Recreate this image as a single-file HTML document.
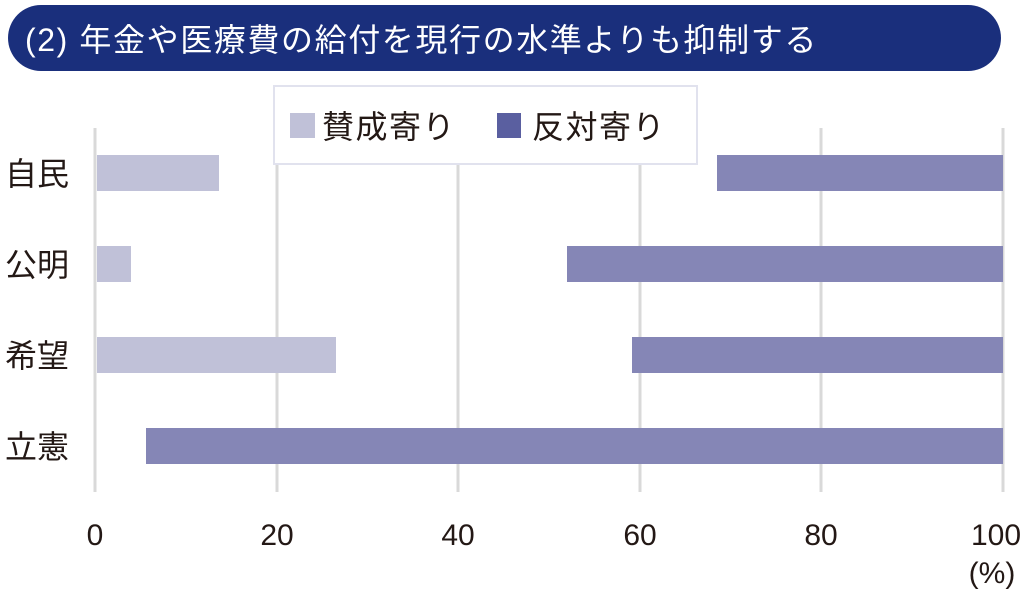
<!DOCTYPE html>
<html><head><meta charset="utf-8"><style>
body{margin:0;background:#fff;}
svg text{font-family:"Liberation Sans","Noto Sans CJK JP",sans-serif;}
</style></head><body>
<svg width="1030" height="592" viewBox="0 0 1030 592" xmlns="http://www.w3.org/2000/svg">
<rect x="0" y="0" width="1030" height="592" fill="#fff"/>
<rect x="8" y="5" width="993" height="66" rx="33" fill="#1a2f7c"/>
<text x="25" y="51" font-size="32" letter-spacing="1.6" fill="#fff">(2) 年金や医療費の給付を現行の水準よりも抑制する</text>
<g stroke="#d9d9d9" stroke-width="3">
<line x1="95" y1="128" x2="95" y2="492"/>
<line x1="277" y1="128" x2="277" y2="492"/>
<line x1="458" y1="128" x2="458" y2="492"/>
<line x1="640" y1="128" x2="640" y2="492"/>
<line x1="821" y1="128" x2="821" y2="492"/>
<line x1="1003" y1="128" x2="1003" y2="492"/>
</g>
<rect x="274" y="86" width="423" height="78" fill="#fff" stroke="#e1e2ee" stroke-width="2"/>
<rect x="290" y="113" width="25" height="25" fill="#c0c1d8"/>
<text x="322" y="138" font-size="32" letter-spacing="1.5" fill="#231815">賛成寄り</text>
<rect x="497" y="113" width="24" height="25" fill="#5a5fa0"/>
<text x="532" y="138" font-size="32" letter-spacing="1.5" fill="#231815">反対寄り</text>
<g fill="#c0c1d8">
<rect x="97" y="155" width="122" height="36"/>
<rect x="97" y="246" width="34" height="36"/>
<rect x="97" y="337" width="239" height="36"/>
</g>
<g fill="#8586b6">
<rect x="717" y="155" width="286" height="36"/>
<rect x="567" y="246" width="436" height="36"/>
<rect x="632" y="337" width="371" height="36"/>
<rect x="146" y="428" width="857" height="36"/>
</g>
<g font-size="32" fill="#231815">
<text x="5" y="185">自民</text>
<text x="5" y="276">公明</text>
<text x="5" y="367">希望</text>
<text x="5" y="458">立憲</text>
</g>
<g font-size="30" fill="#231815" text-anchor="middle">
<text x="95" y="545">0</text>
<text x="277" y="545">20</text>
<text x="458" y="545">40</text>
<text x="640" y="545">60</text>
<text x="821" y="545">80</text>
<text x="996" y="545">100</text>
<text x="992" y="583">(%)</text>
</g>
</svg>
</body></html>
